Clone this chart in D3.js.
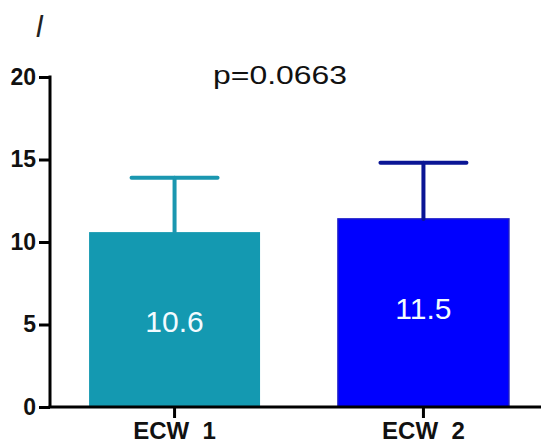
<!DOCTYPE html>
<html><head><meta charset="utf-8">
<script src="https://cdn.jsdelivr.net/npm/d3@7"></script>
<style>body{margin:0;background:#fff}svg{display:block}text{font-family:Arial,"Liberation Sans",sans-serif}</style>
</head><body>
<svg id="c" width="541" height="443"></svg>
<script>
const categories = ["ECW  1", "ECW  2"];
const means = [10.6, 11.4];
const meanLabels = ["10.6", "11.5"];
const errUpper = [13.9, 14.8];
const yTicks = [0, 5, 10, 15, 20];
const barColors = ["#1499b1", "#0000ff"];
const errColors = ["#1a97b0", "#0a1595"];
const pText = "p=0.0663";
const panelLetter = "l";

const svg = d3.select("#c");
const x = d3.scaleBand().domain(categories).range([50, 548]).paddingInner(0.313).paddingOuter(0.157);
const y = d3.scaleLinear().domain([0, 20]).range([407, 77]);

// bars
svg.selectAll("rect.bar").data(means).join("rect")
  .attr("x", (d,i) => x(categories[i]))
  .attr("y", d => y(d))
  .attr("width", x.bandwidth())
  .attr("height", d => y(0) - y(d))
  .attr("fill", (d,i) => barColors[i])
  .attr("stroke", (d,i) => i === 1 ? "#1a1ac8" : "none")
  .attr("stroke-width", 1.5);

// error bars
const capW = 86;
const eb = svg.selectAll("g.eb").data(errUpper).join("g")
  .attr("stroke", (d,i) => errColors[i]).attr("stroke-width", 4).attr("stroke-linecap", "round");
eb.append("line")
  .attr("x1", (d,i) => x(categories[i]) + x.bandwidth()/2)
  .attr("x2", (d,i) => x(categories[i]) + x.bandwidth()/2)
  .attr("y1", (d,i) => y(means[i]))
  .attr("y2", d => y(d));
eb.append("line")
  .attr("x1", (d,i) => x(categories[i]) + x.bandwidth()/2 - capW/2)
  .attr("x2", (d,i) => x(categories[i]) + x.bandwidth()/2 + capW/2)
  .attr("y1", d => y(d)).attr("y2", d => y(d));

// value labels
svg.selectAll("text.val").data(meanLabels).join("text")
  .attr("x", (d,i) => x(categories[i]) + x.bandwidth()/2)
  .attr("y", (d,i) => y(means[i]) + 100)
  .attr("text-anchor", "middle")
  .attr("fill", "#f2fbff")
  .attr("font-size", 30)
  .text(d => d);

// y axis
const yAxis = svg.append("g").attr("transform", "translate(50,0)")
  .call(d3.axisLeft(y).tickValues(yTicks).tickSize(11).tickPadding(3).tickSizeOuter(0));
yAxis.select(".domain").attr("stroke", "#000").attr("stroke-width", 3).attr("d", "M0," + (y(20)-1.5) + "V" + y(0));
yAxis.selectAll(".tick line").attr("stroke", "#000").attr("stroke-width", 3);
yAxis.selectAll(".tick text").attr("font-size", 23).attr("font-weight", "bold").attr("fill", "#111")
  .attr("font-family", "Arial, 'Liberation Sans', sans-serif");

// x axis
const xAxis = svg.append("g").attr("transform", "translate(0,407)")
  .call(d3.axisBottom(x).tickSize(11).tickPadding(4).tickSizeOuter(0));
xAxis.select(".domain").attr("stroke", "#000").attr("stroke-width", 3).attr("d", "M48.5,0H541");
xAxis.selectAll(".tick line").attr("stroke", "#000").attr("stroke-width", 3);
xAxis.selectAll(".tick text").attr("font-size", 24).attr("font-weight", "bold").attr("fill", "#111")
  .attr("font-family", "Arial, 'Liberation Sans', sans-serif").style("white-space", "pre");

// title
svg.append("text").attr("x", 280).attr("y", 84).attr("text-anchor", "middle")
  .attr("font-size", 26).attr("fill", "#111")
  .attr("textLength", 134).attr("lengthAdjust", "spacingAndGlyphs").text(pText);

// panel letter
svg.append("text").attr("x", 36).attr("y", 37).attr("font-size", 30)
  .attr("font-style", "italic").attr("font-family", "'Liberation Serif','DejaVu Serif',serif")
  .attr("fill", "#222").text(panelLetter);
</script>
</body></html>
